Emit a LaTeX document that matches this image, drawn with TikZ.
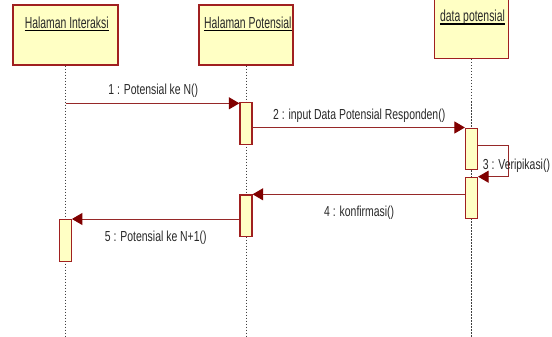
\documentclass[tikz,border=0pt]{standalone}
\usepackage{fontspec}
\setmainfont{Liberation Sans}
\newfontfamily\headfont[FakeStretch=0.65]{Liberation Sans}
\newfontfamily\msgfont[FakeStretch=0.72]{Liberation Sans}
\usetikzlibrary{arrows.meta}
\definecolor{yel}{RGB}{255,255,196}
\definecolor{boxcol}{RGB}{160,32,32}
\definecolor{linecol}{RGB}{150,40,40}
\definecolor{tipcol}{RGB}{128,0,0}
\definecolor{txtcol}{RGB}{40,40,40}
\tikzset{
  head/.style={draw=boxcol, fill=yel, line width=1.4pt, inner sep=0pt},
  headtext/.style={inner sep=0pt, anchor=base, text depth=0pt, font=\headfont\fontsize{16}{18}\selectfont, text=txtcol},
  ul/.style={line width=1.5pt, black},
  act/.style={draw=boxcol, fill=yel, line width=1.2pt, minimum width=12pt, inner sep=0pt, anchor=north},
  life/.style={line width=0.8pt, black!75, dash pattern=on 1.5pt off 1.5pt},
  msg/.style={draw=linecol, line width=1pt, -{Triangle[length=10.5pt,width=12pt,color=tipcol,fill=tipcol]}},
  lbl/.style={inner sep=0pt, anchor=base, font=\msgfont\fontsize{14.5}{16}\selectfont, text=txtcol}
}
\begin{document}
\begin{tikzpicture}[x=1pt, y=-1pt]
\useasboundingbox (0,0) rectangle (552,337);
\clip (0,0) rectangle (552,337);
\coordinate (bot) at (0,337);
% heads
\node[head, minimum width=105pt, minimum height=60pt] (h1) at (65.5,35) {};
\node[head, minimum width=94pt, minimum height=60pt] (h2) at (246,35) {};
\node[head, minimum width=74pt, minimum height=63.3pt] (h3) at (471.5,26.65) {};
\node[headtext] (t1) at (66.7,28.3) {Halaman Interaksi};
\node[headtext] (t2) at (247.8,28.3) {Halaman Potensial};
\node[headtext] (t3) at (472.5,21.5) {data potensial};
\draw[ul] ([yshift=-1.8pt]t1.south west) -- ([yshift=-1.8pt]t1.south east);
\draw[ul] ([yshift=-1.8pt]t2.south west) -- ([yshift=-1.8pt]t2.south east);
\draw[ul] ([yshift=-2.2pt]t3.south west) -- ([yshift=-2.2pt]t3.south east);
% lifelines
\draw[life] (h1.south) -- (h1.south |- bot);
\draw[life] (h2.south) -- (h2.south |- bot);
\draw[life] (h3.south) -- (h3.south |- bot);
% activations
\node[act, minimum height=42pt] (a2a) at (246,102) {};
\node[act, minimum height=41.5pt] (a3a) at (471.5,127.5) {};
\node[act, minimum height=41.5pt] (a3b) at (471.5,176.7) {};
\node[act, minimum height=41.7pt] (a2b) at (246,194.3) {};
\node[act, minimum height=41.7pt] (a1) at (65.3,219) {};
% messages
\coordinate (m1) at ([yshift=-1.3pt]a2a.north west);
\draw[msg] (h1.south |- m1) -- (m1);
\draw[msg] (a2a.east |- a3a.north west) -- (a3a.north west);
\coordinate (s3) at ([yshift=-18.2pt]a3a.north east);
\draw[msg] (s3) -- ++(30.5,0) |- (a3b.north east);
\draw[msg] (a3b.west |- a2b.north east) -- (a2b.north east);
\draw[msg] (a2b.west |- a1.north east) -- (a1.north east);
% labels
\node[lbl] (l1) at (153.3,95) {1 : Potensial ke N()};
\node[lbl] (l2) at (359.2,120) {2 : input Data Potensial Responden()};
\node[lbl, anchor=base west] (l3) at (482.7,169.3) {3 : Veripikasi()};
\node[lbl] (l4) at (359.2,216.7) {4 : konfirmasi()};
\node[lbl] (l5) at (155.8,241.7) {5 : Potensial ke N+1()};
\end{tikzpicture}
\end{document}
